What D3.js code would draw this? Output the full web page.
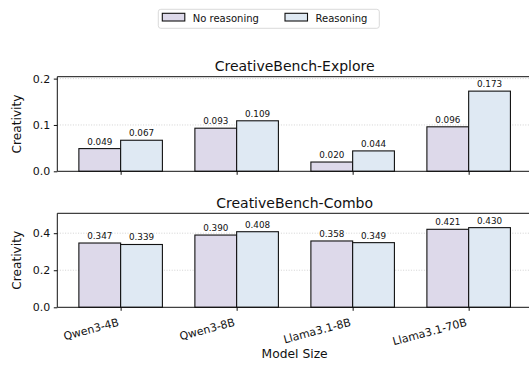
<!DOCTYPE html>
<html>
<head>
<meta charset="utf-8">
<script src="https://cdn.jsdelivr.net/npm/d3@7/dist/d3.min.js"></script>
<style>
  html, body { margin: 0; padding: 0; background: #fff; overflow: hidden; }
  #chart { width: 529px; height: 369px; overflow: hidden; }
  svg { display: block; overflow: hidden; font-family: "DejaVu Sans", sans-serif; }
</style>
</head>
<body>
<div id="chart"></div>
<script>
// Model names along the shared x axis
const models = ["Qwen3-4B", "Qwen3-8B", "Llama3.1-8B", "Llama3.1-70B"];
const seriesNames = ["No reasoning", "Reasoning"];

// CreativeBench-Explore scores
const exploreNoReasoning = [0.049, 0.093, 0.020, 0.096];
const exploreReasoning   = [0.067, 0.109, 0.044, 0.173];

// CreativeBench-Combo scores
const comboNoReasoning = [0.347, 0.390, 0.358, 0.421];
const comboReasoning   = [0.339, 0.408, 0.349, 0.430];

const exploreTicks = [0, 0.1, 0.2];
const comboTicks   = [0, 0.2, 0.4];

const colors = ["#ddd9ea", "#dfe9f3"];
const W = 529, H = 369;
const barW = 0.36;

const svg = d3.select("#chart").append("svg")
  .attr("width", W).attr("height", H);

// x: group index, padded 5% beyond the outer bar edges
const pad = ((models.length - 1) + 2 * barW) * 0.05;
const x = d3.scaleLinear()
  .domain([-barW - pad, models.length - 1 + barW + pad])
  .range([57.3, 532]);

function panel(title, top, bottom, noR, withR, ticks, showLabels) {
  const ymax = d3.max(noR.concat(withR)) * 1.18;
  const y = d3.scaleLinear().domain([0, ymax]).range([bottom, top]);
  const g = svg.append("g");
  const [x0, x1] = x.range();

  // dotted horizontal grid
  g.append("g").selectAll("line").data(ticks.filter(t => t > 0)).join("line")
    .attr("x1", x0).attr("x2", x1)
    .attr("y1", d => y(d)).attr("y2", d => y(d))
    .attr("stroke", "#c8c8c8").attr("stroke-width", 0.8)
    .attr("stroke-dasharray", "1,1.6");

  const series = [noR, withR];
  series.forEach((vals, s) => {
    g.append("g").selectAll("rect").data(vals).join("rect")
      .attr("x", (d, i) => x(i + (s - 1) * barW))
      .attr("width", (d, i) => x(i + s * barW) - x(i + (s - 1) * barW))
      .attr("y", d => y(d))
      .attr("height", d => y(0) - y(d))
      .attr("fill", colors[s])
      .attr("stroke", "#111").attr("stroke-width", 1.1);
    g.append("g").selectAll("text").data(vals).join("text")
      .attr("x", (d, i) => x(i + (s - 0.5) * barW))
      .attr("y", d => y(d) - 4)
      .attr("text-anchor", "middle")
      .attr("font-size", 8.8).attr("fill", "#111")
      .text(d => d.toFixed(3));
  });

  // y axis
  const ya = g.append("g").attr("transform", `translate(${x0},0)`)
    .call(d3.axisLeft(y).tickValues(ticks).tickFormat(d3.format(".1f")).tickSize(3.5).tickPadding(3.5));
  ya.select(".domain").remove();
  ya.selectAll("text").attr("font-size", 11).attr("fill", "#111").attr("font-family", "DejaVu Sans");
  ya.selectAll("line").attr("stroke", "#111");

  // x axis ticks
  const xa = g.append("g").attr("transform", `translate(0,${bottom})`)
    .call(d3.axisBottom(x).tickValues(d3.range(models.length)).tickSize(3.5).tickFormat(""));
  xa.select(".domain").remove();
  xa.selectAll("line").attr("stroke", "#111");

  if (showLabels) {
    g.append("g").selectAll("text").data(models).join("text")
      .attr("transform", (d, i) => `translate(${x(i) - 1},${bottom + 18.2}) rotate(-15)`)
      .attr("text-anchor", "end")
      .attr("font-size", 11).attr("fill", "#111")
      .text(d => d);
  }

  // spines: top, left, bottom (the right one falls past the page edge)
  g.append("path")
    .attr("d", `M${W + 5},${top}H${x0}V${bottom}H${W + 5}`)
    .attr("fill", "none").attr("stroke", "#111").attr("stroke-width", 1);

  g.append("text")
    .attr("x", (x0 + x1) / 2).attr("y", top - 5.5)
    .attr("text-anchor", "middle").attr("font-size", 14).attr("fill", "#111")
    .text(title);

  g.append("text")
    .attr("transform", `translate(21,${(top + bottom) / 2}) rotate(-90)`)
    .attr("text-anchor", "middle").attr("font-size", 12.2).attr("fill", "#111")
    .text("Creativity");
}

panel("CreativeBench-Explore", 76.7, 171.3, exploreNoReasoning, exploreReasoning, exploreTicks, false);
panel("CreativeBench-Combo", 213.3, 307.3, comboNoReasoning, comboReasoning, comboTicks, true);

svg.append("text")
  .attr("x", (x.range()[0] + x.range()[1]) / 2).attr("y", 358)
  .attr("text-anchor", "middle").attr("font-size", 12.3).attr("fill", "#111")
  .text("Model Size");

// legend
const lg = svg.append("g");
lg.append("rect").attr("x", 158.3).attr("y", 9.3).attr("width", 221).attr("height", 19)
  .attr("rx", 2.5).attr("fill", "#fff").attr("stroke", "#d0d0d0").attr("stroke-width", 0.8);
const legendX = [162.3, 285];
seriesNames.forEach((name, s) => {
  lg.append("rect").attr("x", legendX[s]).attr("y", 13.3).attr("width", 22.5).attr("height", 7.7)
    .attr("fill", colors[s]).attr("stroke", "#111").attr("stroke-width", 1.1);
  lg.append("text").attr("x", legendX[s] + 30.5).attr("y", 21.5)
    .attr("font-size", 10).attr("fill", "#111").text(name);
});
</script>
</body>
</html>
